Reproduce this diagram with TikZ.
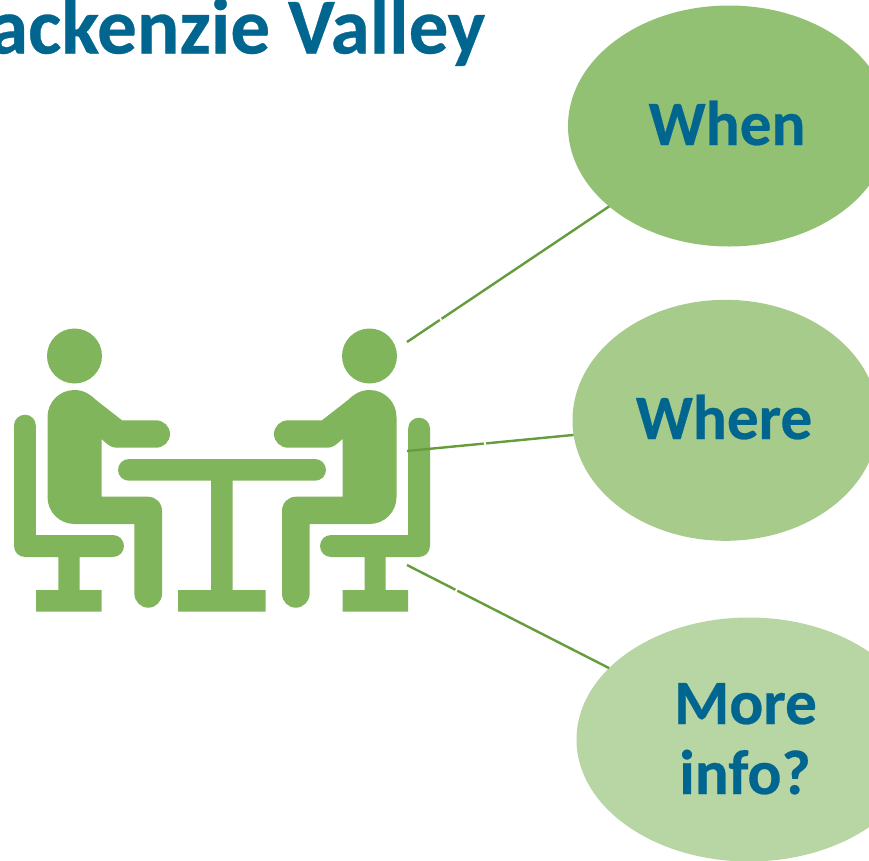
\documentclass[tikz,border=0pt]{standalone}
\usepackage{fontspec}
\setmainfont[BoldFeatures={FakeBold=0.4}]{Carlito}
\usetikzlibrary{shapes.geometric,calc}
\definecolor{inkblue}{HTML}{00668F}
\definecolor{figgreen}{HTML}{80B55B}
\definecolor{linegreen}{HTML}{659C3C}
\definecolor{ballA}{HTML}{92C174}
\definecolor{ballB}{HTML}{A6CB8B}
\definecolor{ballC}{HTML}{B8D5A4}
\tikzset{
  ball/.style={ellipse,draw=none,inner sep=0pt,outer sep=0pt},
  bigtext/.style={anchor=base,text=inkblue,font=\fontsize{47.4}{56}\selectfont\bfseries},
  titletext/.style={anchor=base east,text=inkblue,font=\fontsize{59.4}{70}\selectfont\bfseries,inner sep=0pt},
  figure/.style={fill=figgreen},
  conn/.style={draw=linegreen,line width=1.8pt}
}
\newcommand{\seated}[1]{%
  \fill[figure] (74.5,356) circle[radius=27.5];
  \fill[figure] (47.5,417) .. controls (47.5,402) and (59.5,390) .. (74.5,390)
    .. controls (83,390) and (90,394) .. (96,400) -- (122,420.3) -- (156,420.3)
    .. controls (163.6,420.3) and (170,426.4) .. (170,434)
    .. controls (170,441.6) and (163.6,447.7) .. (156,447.7) -- (116,447.7)
    .. controls (111,447.7) and (107,444) .. (101.5,439) -- (101.5,496.7) -- (148,496.7)
    .. controls (156,496.7) and (162,503) .. (162,511) -- (162,593.7)
    .. controls (162,601.3) and (156,607.7) .. (148.2,607.7)
    .. controls (140.6,607.7) and (134.4,601.3) .. (134.4,593.7) -- (134.4,524) -- (74.5,524)
    .. controls (59.5,524) and (47.5,512) .. (47.5,497) -- cycle;
  \fill[figure] (14,#1) .. controls (14,#1-6) and (19,#1-10.8) .. (25,#1-10.8)
    .. controls (31,#1-10.8) and (35.8,#1-6) .. (35.8,#1) -- (35.8,535) -- (113,535)
    .. controls (119,535) and (124,540) .. (124,546)
    .. controls (124,552) and (119,557) .. (113,557) -- (79.5,557) -- (79.5,590)
    -- (101.5,590) -- (101.5,611.7) -- (36,611.7) -- (36,590) -- (58.3,590) -- (58.3,557)
    -- (25,557) .. controls (19,557) and (14,552) .. (14,546) -- cycle;
}
\begin{document}
\begin{tikzpicture}[x=0.75pt,y=-0.75pt]
\useasboundingbox (0,0) rectangle (869,861);
\clip (0,0) rectangle (869,861);
\fill[white] (0,0) rectangle (869,861);
\node[titletext] (title) at (485.5,53.5) {ackenzie Valley};
% bubbles
\node[ball,fill=ballA,minimum width=322*0.75pt,minimum height=241*0.75pt] (when) at (729,126) {};
\node[ball,fill=ballB,minimum width=306*0.75pt,minimum height=241*0.75pt] (where) at (725.5,420.3) {};
\node[ball,fill=ballC,minimum width=345*0.75pt,minimum height=244*0.75pt] (more) at (749,739.5) {};
\node[bigtext] (whenlabel) at (727,145) {When};
\node[bigtext] (wherelabel) at (724,439) {Where};
\node[bigtext] (morelabel) at (745.5,724) {More};
\node[bigtext] (infolabel) at (745,794) {info?};
% figures
\begin{scope}
  \seated{425.5}
\end{scope}
\begin{scope}[shift={(444,0)},xscale=-1]
  \seated{428.5}
\end{scope}
% table
\fill[figure] (129,459) -- (315,459) .. controls (321,459) and (326,464) .. (326,470)
  .. controls (326,476) and (321,480.7) .. (315,480.7) -- (232.7,480.7) -- (232.7,590)
  -- (265.7,590) -- (265.7,611.7) -- (178,611.7) -- (178,590) -- (211,590) -- (211,480.7)
  -- (129,480.7) .. controls (123,480.7) and (118,476) .. (118,470)
  .. controls (118,464) and (123,459) .. (129,459) -- cycle;
% connectors
\coordinate (s1) at (407,342);
\coordinate (s2) at (407,451);
\coordinate (s3) at (407,565);
\draw[conn] (s1) -- ($(s1)!0.102!(when)$);
\draw[conn] ($(s1)!0.1075!(when)$) -- (when);
\draw[conn] (s2) -- ($(s2)!0.241!(where)$);
\draw[conn] ($(s2)!0.2487!(where)$) -- (where);
\draw[conn] (s3) -- ($(s3)!0.1416!(more)$);
\draw[conn] ($(s3)!0.1474!(more)$) -- (more);
\end{tikzpicture}
\end{document}
